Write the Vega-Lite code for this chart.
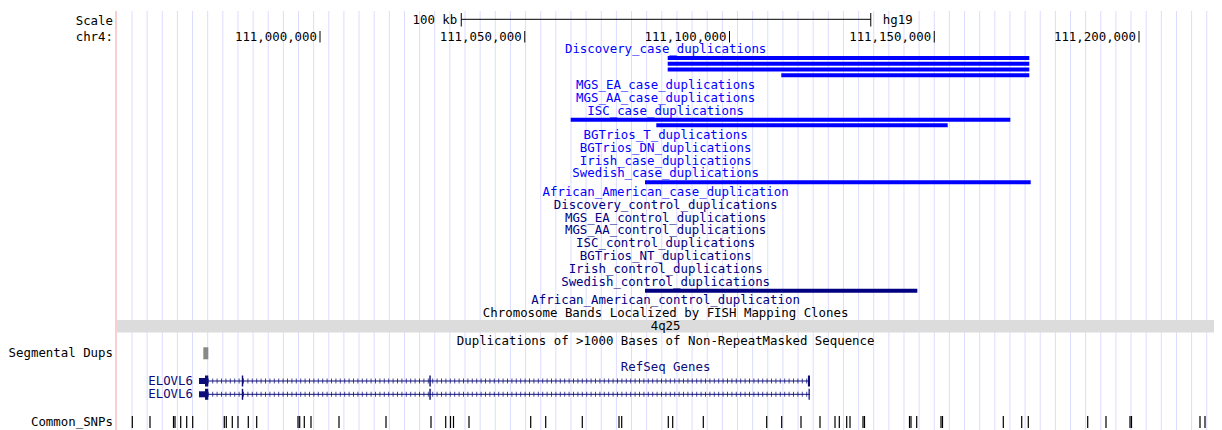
{
  "$schema": "https://vega.github.io/schema/vega-lite/v6.json",
  "width": 1097,
  "height": 430,
  "autosize": "none",
  "padding": {"left": 117, "right": 8, "top": 0, "bottom": 0},
  "background": "white",
  "config": {"view": {"stroke": null}, "text": {"font": "DejaVu Sans Mono", "fontSize": 12.4}},
  "datasets": {
    "grid": [
      {"pos":110954090},{"pos":110957787},{"pos":110961483},{"pos":110965180},{"pos":110968876},{"pos":110972573},{"pos":110976269},{"pos":110979966},{"pos":110983662},{"pos":110987359},{"pos":110991055},{"pos":110994752},{"pos":110998448},{"pos":111002145},{"pos":111005841},{"pos":111009538},{"pos":111013234},{"pos":111016931},{"pos":111020627},{"pos":111024324},{"pos":111028020},{"pos":111031717},{"pos":111035413},{"pos":111039110},{"pos":111042806},{"pos":111046503},{"pos":111050199},{"pos":111053896},{"pos":111057592},{"pos":111061289},{"pos":111064985},{"pos":111068682},{"pos":111072378},{"pos":111076075},{"pos":111079771},{"pos":111083468},{"pos":111087164},{"pos":111090861},{"pos":111094557},{"pos":111098254},{"pos":111101950},{"pos":111105647},{"pos":111109343},{"pos":111113040},{"pos":111116736},{"pos":111120433},{"pos":111124129},{"pos":111127826},{"pos":111131522},{"pos":111135219},{"pos":111138915},{"pos":111142612},{"pos":111146308},{"pos":111150005},{"pos":111153701},{"pos":111157398},{"pos":111161094},{"pos":111164791},{"pos":111168487},{"pos":111172184},{"pos":111175880},{"pos":111179577},{"pos":111183273},{"pos":111186970},{"pos":111190666},{"pos":111194363},{"pos":111198059},{"pos":111201756},{"pos":111205452},{"pos":111209149},{"pos":111212845},{"pos":111216542}
    ],
    "edge": [{"pos": 110950180}],
    "sidelabels": [
      {"label": "Scale", "row": 21},
      {"label": "chr4:", "row": 37},
      {"label": "Segmental Dups", "row": 353.3},
      {"label": "Common_SNPs", "row": 421.7}
    ],
    "bands": [{"name": "4q25", "start": 108600000, "end": 114200000}],
    "scalebar": [{"start": 111034500, "end": 111134500, "label": "100 kb", "asm": "hg19"}],
    "ticks": [
      {"pos": 111000000, "label": "111,000,000"},
      {"pos": 111050000, "label": "111,050,000"},
      {"pos": 111100000, "label": "111,100,000"},
      {"pos": 111150000, "label": "111,150,000"},
      {"pos": 111200000, "label": "111,200,000"}
    ],
    "labels": [
      {"label": "Discovery_case_duplications", "row": 49.3, "group": "case"},
      {"label": "MGS_EA_case_duplications", "row": 85.3, "group": "case"},
      {"label": "MGS_AA_case_duplications", "row": 97.9, "group": "case"},
      {"label": "ISC_case_duplications", "row": 110.5, "group": "case"},
      {"label": "BGTrios_T_duplications", "row": 135, "group": "case"},
      {"label": "BGTrios_DN_duplications", "row": 147.8, "group": "case"},
      {"label": "Irish_case_duplications", "row": 160.6, "group": "case"},
      {"label": "Swedish_case_duplications", "row": 173.3, "group": "case"},
      {"label": "African_American_case_duplication", "row": 191.8, "group": "case"},
      {"label": "Discovery_control_duplications", "row": 204.8, "group": "control"},
      {"label": "MGS_EA_control_duplications", "row": 217.5, "group": "control"},
      {"label": "MGS_AA_control_duplications", "row": 230.3, "group": "control"},
      {"label": "ISC_control_duplications", "row": 243.2, "group": "control"},
      {"label": "BGTrios_NT_duplications", "row": 256, "group": "control"},
      {"label": "Irish_control_duplications", "row": 268.9, "group": "control"},
      {"label": "Swedish_control_duplications", "row": 281.5, "group": "control"},
      {"label": "African_American_control_duplication", "row": 300, "group": "control"},
      {"label": "Chromosome Bands Localized by FISH Mapping Clones", "row": 313.3, "group": "annotation"},
      {"label": "4q25", "row": 326.3, "group": "annotation"},
      {"label": "Duplications of >1000 Bases of Non-RepeatMasked Sequence", "row": 340.7, "group": "annotation"},
      {"label": "RefSeq Genes", "row": 367.3, "group": "gene"}
    ],
    "cnvs": [
      {"track": "Discovery_case_duplications", "start": 111084908, "end": 111173211, "row": 58, "group": "case"},
      {"track": "Discovery_case_duplications", "start": 111084908, "end": 111173211, "row": 63.8, "group": "case"},
      {"track": "Discovery_case_duplications", "start": 111084908, "end": 111173211, "row": 69.5, "group": "case"},
      {"track": "Discovery_case_duplications", "start": 111112649, "end": 111173211, "row": 75.3, "group": "case"},
      {"track": "ISC_case_duplications", "start": 111061222, "end": 111168571, "row": 119.7, "group": "case"},
      {"track": "ISC_case_duplications", "start": 111082124, "end": 111153284, "row": 125.3, "group": "case"},
      {"track": "Swedish_case_duplications", "start": 111079365, "end": 111173553, "row": 182.3, "group": "case"},
      {"track": "Swedish_control_duplications", "start": 111079365, "end": 111145860, "row": 290.7, "group": "control"}
    ],
    "segdups": [{"start": 110971501, "end": 110972722, "row": 353.3}],
    "genes": [
      {"name": "ELOVL6", "txStart": 110970451, "txEnd": 111119658, "row": 381},
      {"name": "ELOVL6", "txStart": 110970451, "txEnd": 111119600, "row": 394.3}
    ],
    "exons": [
      {"row": 381, "start": 110970451, "end": 110971917, "kind": "utr"},
      {"row": 381, "start": 110971917, "end": 110972722, "kind": "cds"},
      {"row": 381, "start": 110980900, "end": 110981250, "kind": "cds"},
      {"row": 381, "start": 111026700, "end": 111027050, "kind": "cds"},
      {"row": 381, "start": 111119150, "end": 111119658, "kind": "cds"},
      {"row": 394.3, "start": 110970451, "end": 110971917, "kind": "utr"},
      {"row": 394.3, "start": 110971917, "end": 110972722, "kind": "cds"},
      {"row": 394.3, "start": 110980900, "end": 110981250, "kind": "cds"},
      {"row": 394.3, "start": 111026700, "end": 111027050, "kind": "cds"},
      {"row": 394.3, "start": 111119300, "end": 111119600, "kind": "cds"}
    ],
    "snps": [
      {"pos":110954163},{"pos":110958486},{"pos":110964224},{"pos":110964591},{"pos":110965983},{"pos":110967448},{"pos":110968913},{"pos":110976630},{"pos":110977118},{"pos":110978583},{"pos":110979975},{"pos":110982490},{"pos":110984542},{"pos":110994627},{"pos":110995042},{"pos":110996165},{"pos":110997802},{"pos":111004639},{"pos":111016117},{"pos":111027106},{"pos":111030696},{"pos":111031868},{"pos":111032600},{"pos":111036385},{"pos":111051453},{"pos":111055116},{"pos":111064053},{"pos":111073015},{"pos":111073675},{"pos":111085054},{"pos":111086129},{"pos":111093601},{"pos":111109084},{"pos":111112747},{"pos":111117460},{"pos":111122100},{"pos":111125763},{"pos":111126813},{"pos":111128620},{"pos":111129426},{"pos":111132600},{"pos":111132967},{"pos":111143956},{"pos":111144322},{"pos":111145714},{"pos":111151648},{"pos":111152014},{"pos":111166861},{"pos":111171355},{"pos":111172966},{"pos":111187472},{"pos":111191941},{"pos":111197802},{"pos":111198168},{"pos":111214896},{"pos":111216117}
    ]
  },
  "layer": [
    {
      "data": {"name": "grid"},
      "mark": {"type": "rule", "color": "#DCDCFF", "strokeWidth": 1},
      "encoding": {
        "x": {"field": "pos", "type": "quantitative", "scale": {"domain": [110950427, 111218314], "nice": false, "zero": false}, "axis": null},
        "y": {"datum": 11, "type": "quantitative", "scale": {"domain": [0, 430], "nice": false, "zero": false, "reverse": true}, "axis": null},
        "y2": {"datum": 430}
      }
    },
    {
      "data": {"name": "edge"},
      "mark": {"type": "rule", "color": "#F7BFBF", "strokeWidth": 1.5},
      "encoding": {
        "x": {"field": "pos", "type": "quantitative", "axis": null},
        "y": {"datum": 11, "type": "quantitative", "axis": null},
        "y2": {"datum": 430}
      }
    },
    {
      "data": {"name": "sidelabels"},
      "mark": {"type": "text", "align": "right", "baseline": "middle", "color": "#000000"},
      "encoding": {
        "x": {"datum": 110949450, "type": "quantitative", "axis": null},
        "y": {"field": "row", "type": "quantitative", "axis": null},
        "text": {"field": "label"}
      }
    },
    {
      "data": {"name": "bands"},
      "mark": {"type": "rect", "color": "#DCDCDC", "clip": true},
      "encoding": {
        "x": {"field": "start", "type": "quantitative", "axis": null},
        "x2": {"field": "end"},
        "y": {"datum": 320, "type": "quantitative", "axis": null},
        "y2": {"datum": 332.5}
      }
    },
    {
      "data": {"name": "scalebar"},
      "mark": {"type": "rule", "color": "#000000", "strokeWidth": 1},
      "encoding": {
        "x": {"field": "start", "type": "quantitative", "axis": null},
        "x2": {"field": "end"},
        "y": {"datum": 19.3, "type": "quantitative", "axis": null}
      }
    },
    {
      "data": {"name": "scalebar"},
      "mark": {"type": "rule", "color": "#000000", "strokeWidth": 1},
      "encoding": {
        "x": {"field": "start", "type": "quantitative", "axis": null},
        "y": {"datum": 13, "type": "quantitative", "axis": null},
        "y2": {"datum": 26.5}
      }
    },
    {
      "data": {"name": "scalebar"},
      "mark": {"type": "rule", "color": "#000000", "strokeWidth": 1},
      "encoding": {
        "x": {"field": "end", "type": "quantitative", "axis": null},
        "y": {"datum": 13, "type": "quantitative", "axis": null},
        "y2": {"datum": 26.5}
      }
    },
    {
      "data": {"name": "scalebar"},
      "mark": {"type": "text", "align": "right", "baseline": "middle", "dx": -4, "color": "#000000"},
      "encoding": {
        "x": {"field": "start", "type": "quantitative", "axis": null},
        "y": {"datum": 19.6, "type": "quantitative", "axis": null},
        "text": {"field": "label"}
      }
    },
    {
      "data": {"name": "scalebar"},
      "mark": {"type": "text", "align": "left", "baseline": "middle", "dx": 12, "color": "#000000"},
      "encoding": {
        "x": {"field": "end", "type": "quantitative", "axis": null},
        "y": {"datum": 19.6, "type": "quantitative", "axis": null},
        "text": {"field": "asm"}
      }
    },
    {
      "data": {"name": "ticks"},
      "mark": {"type": "rule", "color": "#000000", "strokeWidth": 1},
      "encoding": {
        "x": {"field": "pos", "type": "quantitative", "axis": null},
        "y": {"datum": 31, "type": "quantitative", "axis": null},
        "y2": {"datum": 42.5}
      }
    },
    {
      "data": {"name": "ticks"},
      "mark": {"type": "text", "align": "right", "baseline": "middle", "dx": -3, "color": "#000000"},
      "encoding": {
        "x": {"field": "pos", "type": "quantitative", "axis": null},
        "y": {"datum": 36.5, "type": "quantitative", "axis": null},
        "text": {"field": "label"}
      }
    },
    {
      "data": {"name": "labels"},
      "mark": {"type": "text", "align": "center", "baseline": "middle"},
      "encoding": {
        "x": {"datum": 111084400, "type": "quantitative", "axis": null},
        "y": {"field": "row", "type": "quantitative", "axis": null},
        "text": {"field": "label"},
        "color": {"field": "group", "type": "nominal", "scale": {"domain": ["case", "control", "annotation", "gene"], "range": ["#0000FF", "#000080", "#000000", "#0C0C78"]}, "legend": null}
      }
    },
    {
      "data": {"name": "cnvs"},
      "mark": {"type": "rule", "strokeWidth": 4},
      "encoding": {
        "x": {"field": "start", "type": "quantitative", "axis": null},
        "x2": {"field": "end"},
        "y": {"field": "row", "type": "quantitative", "axis": null},
        "color": {"field": "group", "type": "nominal", "legend": null}
      }
    },
    {
      "data": {"name": "segdups"},
      "mark": {"type": "rule", "strokeWidth": 12, "color": "#888888"},
      "encoding": {
        "x": {"field": "start", "type": "quantitative", "axis": null},
        "x2": {"field": "end"},
        "y": {"field": "row", "type": "quantitative", "axis": null}
      }
    },
    {
      "data": {"name": "genes"},
      "mark": {"type": "rule", "strokeWidth": 1, "color": "#0C0C78"},
      "encoding": {
        "x": {"field": "txStart", "type": "quantitative", "axis": null},
        "x2": {"field": "txEnd"},
        "y": {"field": "row", "type": "quantitative", "axis": null}
      }
    },
    {
      "data": {"name": "genes"},
      "mark": {"type": "rule", "strokeWidth": 5, "strokeDash": [1, 3.4], "color": "#0C0C78", "opacity": 0.75},
      "encoding": {
        "x": {"field": "txStart", "type": "quantitative", "axis": null},
        "x2": {"field": "txEnd"},
        "y": {"field": "row", "type": "quantitative", "axis": null}
      }
    },
    {
      "data": {"name": "exons"},
      "mark": {"type": "rule", "color": "#0C0C78"},
      "encoding": {
        "x": {"field": "start", "type": "quantitative", "axis": null},
        "x2": {"field": "end"},
        "y": {"field": "row", "type": "quantitative", "axis": null},
        "strokeWidth": {"field": "kind", "type": "nominal", "scale": {"domain": ["utr", "cds"], "range": [6, 11]}, "legend": null}
      }
    },
    {
      "data": {"name": "genes"},
      "mark": {"type": "text", "align": "right", "baseline": "middle", "dx": -6, "color": "#0C0C78"},
      "encoding": {
        "x": {"field": "txStart", "type": "quantitative", "axis": null},
        "y": {"field": "row", "type": "quantitative", "axis": null},
        "text": {"field": "name"}
      }
    },
    {
      "data": {"name": "snps"},
      "mark": {"type": "rule", "color": "#000000", "strokeWidth": 1.2},
      "encoding": {
        "x": {"field": "pos", "type": "quantitative", "axis": null},
        "y": {"datum": 416, "type": "quantitative", "axis": null},
        "y2": {"datum": 428}
      }
    }
  ]
}
